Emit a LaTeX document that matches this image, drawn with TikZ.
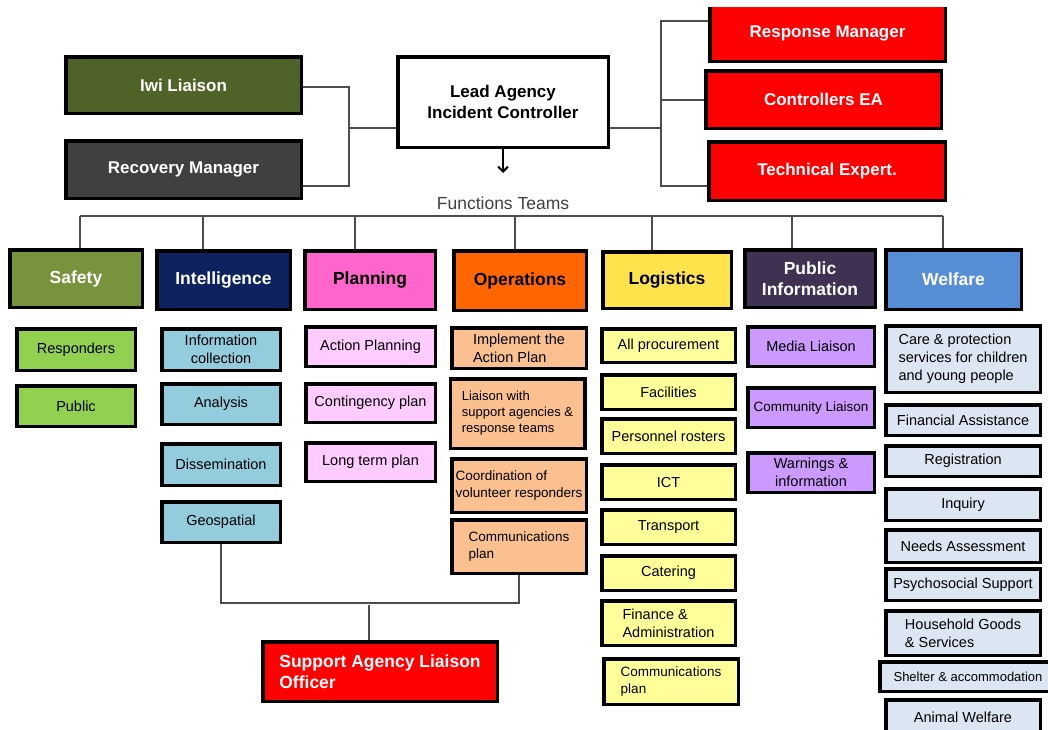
\documentclass[tikz,border=0pt]{standalone}
\usepackage{fontspec}
\setmainfont{Liberation Sans}
\usetikzlibrary{positioning}
\usetikzlibrary{calc}
\usetikzlibrary{arrows.meta}

\definecolor{iwigreen}{HTML}{4F6228}
\definecolor{recgray}{HTML}{404040}
\definecolor{alertred}{HTML}{FF0000}
\definecolor{safegreen}{HTML}{77933C}
\definecolor{intelblue}{HTML}{0F2260}
\definecolor{planpink}{HTML}{FF66CC}
\definecolor{opsorange}{HTML}{FF6600}
\definecolor{logyellow}{HTML}{FFE34D}
\definecolor{pubpurple}{HTML}{3F3151}
\definecolor{welfblue}{HTML}{558ED5}
\definecolor{safelight}{HTML}{92D050}
\definecolor{intellight}{HTML}{93CDDD}
\definecolor{planlight}{HTML}{FFCCFF}
\definecolor{opslight}{HTML}{FAC090}
\definecolor{loglight}{HTML}{FFFF99}
\definecolor{publight}{HTML}{CC99FF}
\definecolor{welflight}{HTML}{DCE6F2}
\definecolor{linkgray}{HTML}{4D4D4D}

\begin{document}
\begin{tikzpicture}[x=1pt, y=-1pt, thick,
    main/.style = {draw, line width=3.5pt, inner sep=2pt, align=center},
    topbox/.style = {main, text=white, font=\bfseries\fontsize{17}{21}\selectfont},
    headbox/.style = {main, font=\bfseries\fontsize{17.5}{21}\selectfont},
    subbox/.style = {main, font=\fontsize{14.5}{18}\selectfont},
    subsmall/.style = {main, font=\fontsize{13}{16}\selectfont},
    safesub/.style = {subbox, fill=safelight, minimum width=118.5},
    intelsub/.style = {subbox, fill=intellight, minimum width=118.5},
    plansub/.style = {subbox, fill=planlight, minimum width=129.5},
    opssub/.style = {subbox, fill=opslight, minimum width=134.5},
    logsub/.style = {subbox, fill=loglight, minimum width=133.5, minimum height=34.5},
    pubsub/.style = {subbox, fill=publight, minimum width=126.5, minimum height=39.5},
    welfsub/.style = {subbox, fill=welflight, minimum width=154.5},
    link/.style = {draw=linkgray, line width=1.3pt}]

    \useasboundingbox (0,0) rectangle (1048,729);
    \fill[white] (0,0) rectangle (1048,729);

    % controller and the boxes beside it
    \node[main, fill=white, font=\bfseries\fontsize{17}{21}\selectfont,
          minimum width=210.5, minimum height=90.5] (lead) at (503,102) {Lead Agency\\Incident Controller};
    \node[topbox, fill=iwigreen, minimum width=235.5, minimum height=56.5] (iwi) at (183.5,85) {Iwi Liaison};
    \node[topbox, fill=recgray, minimum width=235.5, minimum height=57.5] (recov) at (183.5,169.5) {Recovery Manager};
    \begin{scope}
        % top edge of this box is cut off
        \clip (0,7) rectangle (1048,729);
        \node[topbox, fill=alertred, minimum width=235.5, minimum height=56.5] (resp) at (827.5,33) {Response Manager};
    \end{scope}
    \node[topbox, fill=alertred, minimum width=235.5, minimum height=57.5] (ctrl) at (823.5,99.5) {Controllers EA};
    \node[topbox, fill=alertred, minimum width=236.5, minimum height=58.5] (tech) at (827,171) {Technical Expert.};

    \coordinate (lj) at (349,128);
    \coordinate (rj) at (661,128);
    \draw[link] (lead.west |- lj) -- (lj);
    \draw[link] (iwi.east |- 0,87) -| (lj |- 0,186) -- (recov.east |- 0,186);
    \draw[link] (lead.east |- rj) -- (rj);
    \draw[link] (resp.west |- 0,21) -| (rj |- 0,186) -- (tech.west |- 0,186);
    \draw[link] (ctrl.west |- 0,100) -- (rj |- 0,100);

    \draw[-{Straight Barb[length=5pt, width=10pt]}, line width=2pt] (lead.south) -- ++(0,24);
    \node[text=black!75, font=\fontsize{17.5}{21}\selectfont] (ft) at (503,203) {Functions Teams};

    % function team headers
    \node[headbox, fill=safegreen, text=white, minimum width=132.5, minimum height=57.5] (safe) at (76,278.5) {Safety};
    \node[headbox, fill=intelblue, text=white, minimum width=133.5, minimum height=58.5] (intel) at (223.5,280) {Intelligence};
    \node[headbox, fill=planpink, minimum width=130.5, minimum height=58.5] (plan) at (370,280) {Planning};
    \node[headbox, fill=opsorange, minimum width=132.5, minimum height=59.5] (ops) at (520,280.5) {Operations};
    \node[headbox, fill=logyellow, minimum width=128.5, minimum height=56.5] (logi) at (667,280) {Logistics};
    \node[headbox, fill=pubpurple, text=white, minimum width=130.5, minimum height=57.5] (pub) at (810,278.5) {Public\\Information};
    \node[headbox, fill=welfblue, text=white, minimum width=135.5, minimum height=59.5] (welf) at (953.5,279.5) {Welfare};

    \coordinate (busL) at (80,216);
    \coordinate (busR) at (943,216);
    \draw[link] (busL) -- (busR);
    \foreach \x/\n in {80/safe, 203/intel, 355/plan, 515/ops, 652/logi, 792/pub, 943/welf}
        \draw[link] (\x,216) -- (\n.north -| \x,0);

    % safety
    \node[safesub, minimum height=41.5] (resp1) at (76,349.5) {Responders};
    \node[safesub, minimum height=40.5] (pub1) at (76,406) {Public};

    % intelligence
    \node[intelsub, minimum height=41.5] (info) at (221,349.5) {Information\\collection};
    \node[intelsub, minimum height=40.5] (ana) at (221,404) {Analysis};
    \node[intelsub, minimum height=41.5] (dis) at (221,464.5) {Dissemination};
    \node[intelsub, minimum height=40.5] (geo) at (221,522) {Geospatial};

    % planning
    \node[plansub, minimum height=39.5] (act) at (370.5,346.5) {Action Planning};
    \node[plansub, minimum height=38.5] (cont) at (370.5,403) {Contingency plan};
    \node[plansub, minimum height=38.5] (long) at (370.5,462) {Long term plan};

    % operations
    \node[opssub, minimum height=40.5, align=left] (impl) at (519,348) {Implement the\\Action Plan};
    \node[opssub, subsmall, minimum height=69.5, align=left] (liai) at (517.5,413.5) {Liaison with\\support agencies \&\\response teams};
    \node[opssub, font=\fontsize{13.5}{17}\selectfont, minimum height=53.5, align=left] (coord) at (519,485.5) {Coordination of\\volunteer responders};
    \node[opssub, font=\fontsize{13.5}{17}\selectfont, minimum height=53.5, align=left] (comm) at (519,546.5) {Communications\\plan};

    % logistics
    \node[logsub, minimum height=33.5] (proc) at (668.5,345.5) {All procurement};
    \node[logsub] (fac) at (668.5,392) {Facilities};
    \node[logsub] (pers) at (668.5,436) {Personnel rosters};
    \node[logsub] (ict) at (668.5,482) {ICT};
    \node[logsub] (trans) at (668.5,527) {Transport};
    \node[logsub] (cat) at (668.5,573) {Catering};
    \node[logsub, minimum height=44.5, align=left] (fin) at (668.5,623) {Finance \&\\Administration};
    \node[logsub, font=\fontsize{13.5}{17}\selectfont, minimum width=134.5, minimum height=45.5, align=left] (comm2) at (671,681.5) {Communications\\plan};

    % public information
    \node[pubsub] (media) at (811,346.5) {Media Liaison};
    \node[pubsub, font=\fontsize{13.5}{17}\selectfont] (comm3) at (811,407.5) {Community Liaison};
    \node[pubsub] (warn) at (811,472.5) {Warnings \&\\information};

    % welfare
    \node[welfsub, minimum height=66.5, align=left] (care) at (963,359) {Care \& protection\\services for children\\and young people};
    \node[welfsub, minimum height=30.5] (fina) at (963,420) {Financial Assistance};
    \node[welfsub, minimum height=30.5] (reg) at (963,461) {Registration};
    \node[welfsub, minimum height=31.5] (inq) at (963,504.5) {Inquiry};
    \node[welfsub, minimum height=32.5] (need) at (963,546) {Needs Assessment};
    \node[welfsub, minimum height=31.5] (psy) at (963,584.5) {Psychosocial Support};
    \node[welfsub, minimum height=44.5, align=left] (house) at (963,633) {Household Goods\\\& Services};
    \node[welfsub, subsmall, minimum width=176.5, minimum height=29.5] (shel) at (968,676.5) {Shelter \& accommodation};
    \node[welfsub, minimum height=34.5] (anim) at (963,717) {Animal Welfare};

    % support agency liaison
    \node[topbox, fill=alertred, align=left, font=\bfseries\fontsize{17.5}{21}\selectfont,
          minimum width=234.5, minimum height=59.5] (sup) at (380,671.5) {Support Agency Liaison\\Officer};
    \draw[link] (geo.south) -- ++(0,59) -| (comm.south);
    \coordinate (sj) at (369,605);
    \draw[link] (sj) -- (sup.north -| sj);
\end{tikzpicture}
\end{document}
